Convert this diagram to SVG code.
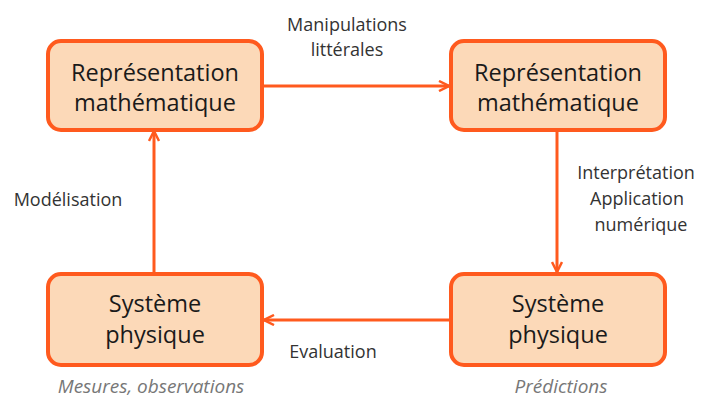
<svg xmlns="http://www.w3.org/2000/svg" width="704" height="402" viewBox="0 0 704 402">
<defs>
<style>
.box{fill:#FCD9B8;stroke:#FF5A1E;stroke-width:4}
.bt{font-family:"Open Sans","Liberation Sans",sans-serif;font-size:23.5px;fill:#1a1a1a;text-anchor:middle}
.lb{font-family:"Open Sans","Liberation Sans",sans-serif;font-size:18px;fill:#333;text-anchor:middle}
.it{font-family:"Open Sans","Liberation Sans",sans-serif;font-size:19px;fill:#777;font-style:italic;text-anchor:middle}
.cn{stroke:#FF5A1E;stroke-width:3;fill:none}
</style>
<marker id="ah" viewBox="0 0 12 12" refX="11" refY="6" markerWidth="12" markerHeight="12" markerUnits="userSpaceOnUse" orient="auto">
<path d="M1,1 L11,6 L1,11" fill="none" stroke="#FF5A1E" stroke-width="2.5"/>
</marker>
</defs>
<rect width="704" height="402" fill="#fff"/>
<g id="connectors">
<line class="cn" x1="263" y1="86" x2="449" y2="86" marker-end="url(#ah)"/>
<line class="cn" x1="557" y1="132" x2="557" y2="272" marker-end="url(#ah)"/>
<line class="cn" x1="450" y1="320" x2="264" y2="320" marker-end="url(#ah)"/>
<line class="cn" x1="154" y1="273" x2="154" y2="131" marker-end="url(#ah)"/>
</g>
<g id="n1">
<rect class="box" x="48" y="41" width="214" height="89" rx="13"/>
<text class="bt" x="155" y="81">Représentation</text>
<text class="bt" x="155" y="111">mathématique</text>
</g>
<g id="n2">
<rect class="box" x="451" y="41" width="214" height="89" rx="13"/>
<text class="bt" x="558" y="81">Représentation</text>
<text class="bt" x="558" y="111">mathématique</text>
</g>
<g id="n3">
<rect class="box" x="48" y="274" width="214" height="91" rx="13"/>
<text class="bt" x="155" y="312">Système</text>
<text class="bt" x="155" y="343">physique</text>
</g>
<g id="n4">
<rect class="box" x="451" y="274" width="214" height="91" rx="13"/>
<text class="bt" x="558" y="312">Système</text>
<text class="bt" x="558" y="343">physique</text>
</g>
<g id="labels">
<text class="lb" x="347" y="31">Manipulations</text>
<text class="lb" x="347" y="56">littérales</text>
<text class="lb" x="636" y="179">Interprétation</text>
<text class="lb" x="637" y="205">Application</text>
<text class="lb" x="641" y="231">numérique</text>
<text class="lb" x="68" y="206">Modélisation</text>
<text class="lb" x="333" y="358">Evaluation</text>
<text class="it" x="151" y="393">Mesures, observations</text>
<text class="it" x="561" y="393">Prédictions</text>
</g>
</svg>
